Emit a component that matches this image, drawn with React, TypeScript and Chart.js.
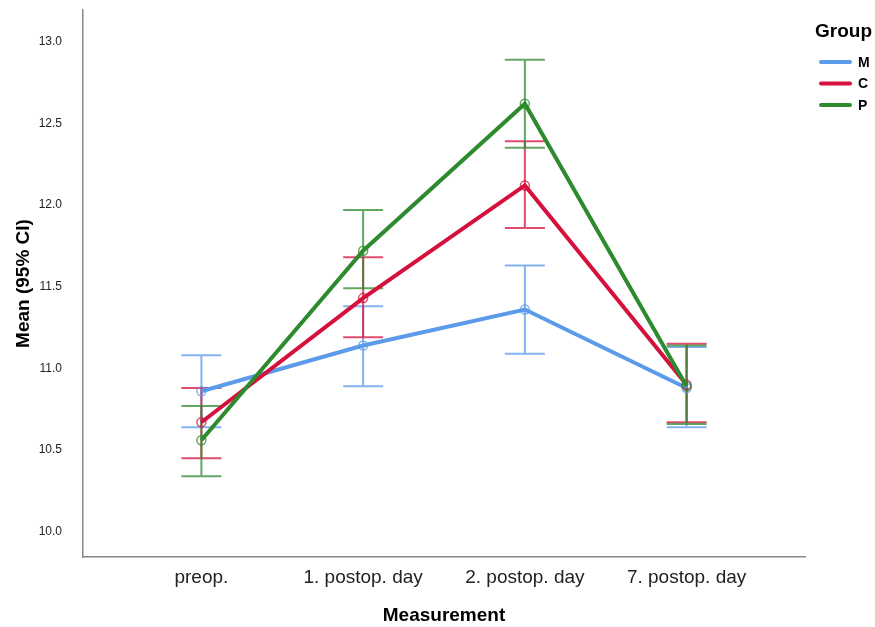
import React, { useEffect, useRef } from 'react';
import { Chart, registerables } from 'chart.js';

Chart.register(...registerables);

const categories = ['preop.', '1. postop. day', '2. postop. day', '7. postop. day'];
const groupNames = ['M', 'C', 'P'];

const meanM = [10.86, 11.14, 11.36, 10.88];
const lowerM = [10.64, 10.89, 11.09, 10.64];
const upperM = [11.08, 11.38, 11.63, 11.13];

const meanC = [10.67, 11.43, 12.12, 10.9];
const lowerC = [10.45, 11.19, 11.86, 10.67];
const upperC = [10.88, 11.68, 12.39, 11.15];

const meanP = [10.56, 11.72, 12.62, 10.89];
const lowerP = [10.34, 11.49, 12.35, 10.66];
const upperP = [10.77, 11.97, 12.89, 11.14];

const yTicks = [10.0, 10.5, 11.0, 11.5, 12.0, 12.5, 13.0];

const colors = ['#5B9BE9', '#D6103D', '#2E8A2E'];
const lightColors = ['rgba(91,155,233,0.75)', 'rgba(214,16,61,0.75)', 'rgba(46,138,46,0.75)'];

const FONT = "'Liberation Sans', Arial, sans-serif";

export default function App() {
  const ref = useRef<HTMLCanvasElement>(null);

  useEffect(() => {
    if (!ref.current) return;
    const means = [meanM, meanC, meanP];
    const lowers = [lowerM, lowerC, lowerP];
    const uppers = [upperM, upperC, upperP];

    const errorBars = {
      id: 'errorBars',
      beforeDatasetsDraw(chart: any) {
        const ctx = chart.ctx;
        const xs = chart.scales.x;
        const ys = chart.scales.y;
        const half = 20;
        for (let i = 0; i < means.length; i++) {
          ctx.save();
          ctx.strokeStyle = lightColors[i];
          ctx.lineWidth = 2;
          for (let j = 0; j < categories.length; j++) {
            const px = xs.getPixelForValue(j);
            const y1 = ys.getPixelForValue(lowers[i][j]);
            const y2 = ys.getPixelForValue(uppers[i][j]);
            ctx.beginPath();
            ctx.moveTo(px, y1);
            ctx.lineTo(px, y2);
            ctx.moveTo(px - half, y1);
            ctx.lineTo(px + half, y1);
            ctx.moveTo(px - half, y2);
            ctx.lineTo(px + half, y2);
            ctx.stroke();
          }
          ctx.restore();
        }
      },
    };

    const legendPlugin = {
      id: 'customLegend',
      afterDraw(chart: any) {
        const ctx = chart.ctx;
        const left = chart.chartArea.right + 10;
        ctx.save();
        ctx.fillStyle = '#000';
        ctx.textBaseline = 'middle';
        ctx.textAlign = 'left';
        ctx.font = `bold 19px ${FONT}`;
        ctx.fillText('Group', left, 32);
        chart.data.datasets.forEach((ds: any, i: number) => {
          const y = 62 + i * 21.5;
          ctx.strokeStyle = ds.borderColor;
          ctx.lineWidth = 4;
          ctx.lineCap = 'round';
          ctx.beginPath();
          ctx.moveTo(left + 6, y);
          ctx.lineTo(left + 35, y);
          ctx.stroke();
          ctx.fillStyle = '#000';
          ctx.font = `bold 14px ${FONT}`;
          ctx.fillText(ds.label, left + 43, y + 1);
        });
        ctx.restore();
      },
    };

    const datasets = groupNames.map((name, i) => ({
      label: name,
      data: means[i].map((v, j) => ({ x: j, y: v })),
      borderColor: colors[i],
      backgroundColor: colors[i],
      borderWidth: 4,
      pointRadius: 4.5,
      pointBorderWidth: 1.5,
      pointBorderColor: lightColors[i],
      pointBackgroundColor: 'rgba(0,0,0,0)',
      tension: 0,
      order: 2 - i,
    }));

    const chart = new Chart(ref.current, {
      type: 'line',
      data: { datasets },
      plugins: [errorBars, legendPlugin],
      options: {
        animation: false,
        responsive: false,
        layout: { padding: { left: 0, top: 10, right: 70, bottom: 0 } },
        plugins: { legend: { display: false }, tooltip: { enabled: false } },
        scales: {
          x: {
            type: 'linear',
            min: -0.732,
            max: 3.732,
            afterBuildTicks: (s: any) => {
              s.ticks = categories.map((_, i) => ({ value: i }));
            },
            afterFit: (s: any) => {
              s.height = 70;
              s.paddingLeft = 0;
              s.paddingRight = 0;
            },
            ticks: {
              callback: (v: any) => categories[v as number] ?? '',
              font: { size: 19, family: FONT },
              color: '#222',
              padding: 9,
              maxRotation: 0,
              autoSkip: false,
            },
            grid: { display: false, drawTicks: false },
            border: { color: '#888', width: 1.5 },
            title: {
              display: true,
              text: 'Measurement',
              font: { size: 19, weight: 'bold', family: FONT },
              color: '#000',
              padding: { top: 0, bottom: 0 },
            },
          },
          y: {
            type: 'linear',
            min: 9.845,
            max: 13.194,
            afterBuildTicks: (s: any) => {
              s.ticks = yTicks.map((v) => ({ value: v }));
            },
            afterFit: (s: any) => {
              s.width = 83;
              s.paddingTop = 0;
              s.paddingBottom = 0;
            },
            ticks: {
              callback: (v: any) => Number(v).toFixed(1),
              font: { size: 12, family: FONT },
              color: '#222',
              padding: 21,
            },
            grid: { display: false, drawTicks: false },
            border: { color: '#888', width: 1.5 },
            title: {
              display: true,
              text: 'Mean (95% CI)',
              font: { size: 19, weight: 'bold', family: FONT },
              color: '#000',
              padding: { top: 12, bottom: 0 },
            },
          },
        },
      },
    } as any);

    return () => chart.destroy();
  }, []);

  return (
    <div style={{ position: 'absolute', left: 0, top: 0, width: 875, height: 627, background: '#fff' }}>
      <canvas ref={ref} width={875} height={627} style={{ display: 'block' }} />
    </div>
  );
}
